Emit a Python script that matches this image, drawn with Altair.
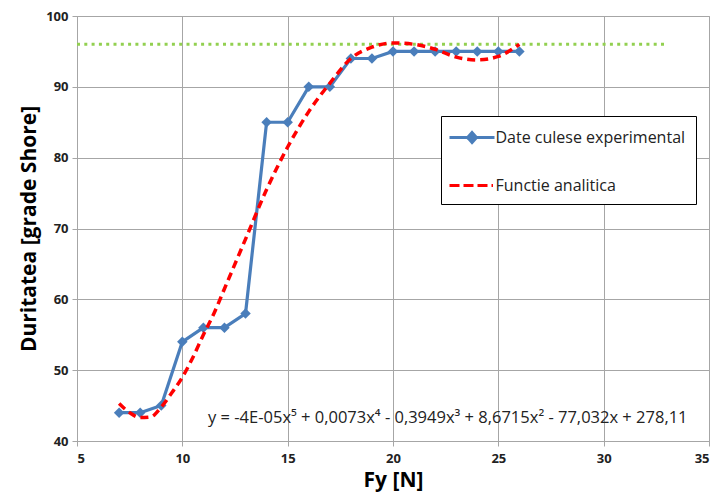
import altair as alt
import pandas as pd

# Experimental data
exp_x = [7, 8, 9, 10, 11, 12, 13, 14, 15, 16, 17, 18, 19, 20, 21, 22, 23, 24, 25, 26]
exp_y = [44, 44, 45, 54, 56, 56, 58, 85, 85, 90, 90, 94, 94, 95, 95, 95, 95, 95, 95, 95]

# Analytic function
fit_x = [7, 7.5, 8, 8.5, 9, 9.5, 10, 10.5, 11, 11.5, 12, 13, 14, 15, 16, 17, 18, 19, 20, 21, 22, 23, 24, 25, 26]
fit_y = [45.3, 44.0, 43.3, 43.4, 44.8, 46.8, 49.0, 51.8, 55.0, 58.0, 61.5, 68.5, 75.5, 81.5, 86.5, 90.5,
         94.0, 95.6, 96.2, 96.0, 95.3, 94.2, 93.8, 94.3, 96.0]

ref_level = [96]
ref_x = [5]
ref_x2 = [33]

eq_text = ["y = -4E-05x\u2075 + 0,0073x\u2074 - 0,3949x\u00b3 + 8,6715x\u00b2 - 77,032x + 278,11"]
eq_x = [22.6]
eq_y = [43.2]

S_EXP = "Date culese experimental"
S_FIT = "Functie analitica"
BLUE = "#4a7ebb"
RED = "#ff0000"

df_exp = pd.DataFrame({"x": exp_x, "y": exp_y, "series": S_EXP})
df_fit = pd.DataFrame({"x": fit_x, "y": fit_y, "series": S_FIT})
df_all = pd.concat([df_exp, df_fit], ignore_index=True)
df_ref = pd.DataFrame({"x": ref_x, "x2": ref_x2, "y": ref_level})
df_eq = pd.DataFrame({"x": eq_x, "y": eq_y, "t": eq_text})

xscale = alt.Scale(domain=[5, 35], nice=False, zero=False)
yscale = alt.Scale(domain=[40, 100], nice=False, zero=False)

xax = alt.Axis(values=[5, 10, 15, 20, 25, 30, 35], title="Fy [N]", titleY=45, titleBaseline="alphabetic")
yax = alt.Axis(values=[40, 50, 60, 70, 80, 90, 100], title="Duritatea [grade Shore]")

X = alt.X("x:Q", scale=xscale, axis=xax)
Y = alt.Y("y:Q", scale=yscale, axis=yax)

LINE_DIAMOND = ("M-2.25,0H2.25M0,-0.5L0.45,0L0,0.5L-0.45,0Z"
                "M0,-0.28L0.25,0L0,0.28L-0.25,0Z")
LINE_ONLY = "M-2.25,0H2.1"

legend = alt.Legend(
    orient="none", legendX=364, legendY=100, title=None,
    symbolSize=400, symbolStrokeWidth=3, symbolOpacity=1, symbolOffset=9.5,
    labelFontSize=16, labelFont="Open Sans", labelLimit=400,
    labelColor="#222222", padding=10, rowPadding=25, strokeColor="black", fillColor="white",
    labelOffset=12,
)

ref = alt.Chart(df_ref).mark_rule(color="#92d050", strokeWidth=3, strokeDash=[3, 4.3]).encode(
    x=X, x2="x2:Q", y=Y,
)

exp_line = alt.Chart(df_exp).mark_line(strokeWidth=3.2, color=BLUE).encode(x=X, y=Y)
exp_pts = alt.Chart(df_exp).mark_point(shape="diamond", filled=True, size=110, opacity=1, color=BLUE).encode(
    x=X, y=Y,
)
fit_line = alt.Chart(df_fit).mark_line(strokeWidth=3.5, interpolate="monotone", color=RED,
                                       strokeDash=[8, 5]).encode(x=X, y=Y)

legend_layer = alt.Chart(df_all).mark_point(opacity=0, strokeWidth=3).encode(
    x=X, y=Y,
    color=alt.Color("series:N", scale=alt.Scale(domain=[S_EXP, S_FIT], range=[BLUE, RED]), legend=legend),
    shape=alt.Shape("series:N", scale=alt.Scale(domain=[S_EXP, S_FIT], range=[LINE_DIAMOND, LINE_ONLY]),
                    legend=legend),
    strokeDash=alt.StrokeDash("series:N", scale=alt.Scale(domain=[S_EXP, S_FIT], range=[[1, 0], [10, 4]]),
                              legend=legend),
)

eq = alt.Chart(df_eq).mark_text(font="Open Sans", fontSize=16.5, color="#222222", align="center").encode(
    x=X, y=Y, text="t:N",
)

chart = alt.layer(ref, exp_line, exp_pts, fit_line, eq, legend_layer).properties(
    width=632, height=425,
    autosize=alt.AutoSizeParams(type="none"),
    padding={"left": 69, "top": 8, "right": 10, "bottom": 52},
).configure_view(stroke="#a6a6a6", strokeWidth=1).configure_axis(
    grid=True, gridColor="#a6a6a6", gridWidth=1, domainColor="#a6a6a6", domainWidth=1,
    tickColor="#a6a6a6", tickSize=5, labelFont="Open Sans", labelFontSize=13, labelFontWeight="bold",
    labelColor="#222222", titleFont="Open Sans", titleFontSize=21, titleFontWeight="bold",
    titleColor="#000000",
).configure_axisX(labelPadding=6).configure_axisY(labelPadding=4, titlePadding=6)

chart.save("out.html", embed_options={"renderer": "svg", "actions": False})
